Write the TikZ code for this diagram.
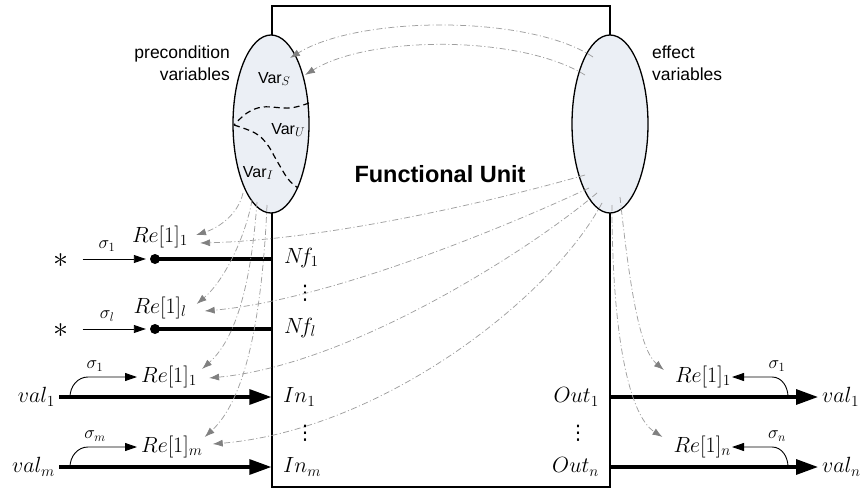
\RequirePackage{fix-cm}
\documentclass[tikz,border=0pt]{standalone}
\usepackage{fontspec}
\newfontfamily\sans{Liberation Sans}
\newfontfamily\dvs{DejaVu Sans}
\usetikzlibrary{shapes.geometric,arrows.meta,calc}
\definecolor{ellfill}{RGB}{235,239,245}
\newcommand{\vsub}[1]{\raisebox{-0.28ex}{\fontsize{12.5}{14}\selectfont$#1$}}
\tikzset{
  lbl/.style={inner sep=1pt, font=\fontsize{22}{26}\selectfont},
  sig/.style={inner sep=1pt, font=\fontsize{18}{21}\selectfont},
  starsty/.style={inner sep=0pt, font=\fontsize{30}{32}\selectfont},
  varlbl/.style={inner sep=1pt, font=\sans\fontsize{16}{19}\selectfont},
  vdotsty/.style={inner sep=0pt, font=\dvs\fontsize{20}{22}\selectfont},
  thickarrow/.style={line width=3.2pt, -{Triangle[length=22pt,width=15pt]}},
  thickline/.style={line width=3.2pt},
  sigarrow/.style={line width=0.9pt, -{Triangle[length=12pt,width=8pt]}},
  gcon/.style={draw=gray!75, line width=0.75pt, dash pattern=on 6pt off 2.5pt on 1pt off 2.5pt, -{Latex[length=10pt,width=7pt,color=gray]}},
  varell/.style={ellipse, draw, line width=1.3pt, fill=ellfill, minimum width=76pt, minimum height=178pt, inner sep=0pt},
  divider/.style={line width=1.2pt, dash pattern=on 6pt off 4pt},
}
\begin{document}
\begin{tikzpicture}[x=1pt,y=1pt]
\useasboundingbox (0,0) rectangle (866,-489);
% functional unit box
\node[draw, line width=1.3pt, minimum width=338pt, minimum height=481pt, inner sep=0pt] (fu) at (441,-246.5) {};
\node[font=\sans\bfseries\fontsize{23.5}{28}\selectfont] (title) at (440,-174) {Functional Unit};
% ellipses
\node[varell] (L) at (271,-124) {};
\node[varell] (R) at (610,-124) {};
\draw[divider] plot[smooth, tension=0.6] coordinates {(309,-103) (290,-108) (263,-107) (247,-113) (234,-125)};
\draw[divider] plot[smooth, tension=0.6] coordinates {(234,-125) (255,-133) (267,-144) (277,-161) (288,-179) (298,-188)};
\node[varlbl] (vs) at (274,-79) {Var\vsub{S}};
\node[varlbl] (vu) at (288,-130) {Var\vsub{U}};
\node[varlbl] (vi) at (258,-173) {Var\vsub{I}};
\node[font=\sans\fontsize{17.5}{22}\selectfont, align=right, anchor=north east, inner sep=0pt] (pre) at (230,-46) {precondition\\variables};
\node[font=\sans\fontsize{17.5}{22}\selectfont, align=left, anchor=north west, inner sep=0pt] (eff) at (652,-46) {effect\\variables};
% left non-functional rows
\node[starsty] (s1) at (61,-261) {$\ast$};
\node[starsty] (s2) at (61,-331) {$\ast$};
\node[circle, fill, inner sep=0pt, minimum size=10pt] (d1) at (155,-259) {};
\node[circle, fill, inner sep=0pt, minimum size=10pt] (d2) at (155,-329) {};
\draw[sigarrow, shorten >=4pt] (s1.east |- d1) ++(14,0) coordinate (a1) -- (d1);
\draw[sigarrow, shorten >=4pt] (s2.east |- d2) ++(14,0) coordinate (a2) -- (d2);
\draw[thickline] (d1.center) -- (d1 -| fu.west);
\draw[thickline] (d2.center) -- (d2 -| fu.west);
\node[sig] (g1) at (107,-246) {$\sigma_1$};
\node[sig] (g2) at (107,-316) {$\sigma_l$};
\node[lbl] (reA) at (160,-237) {$Re[1]_1$};
\node[lbl] (reB) at (160,-308) {$Re[1]_l$};
\node[lbl, anchor=west] (nf1) at (283,-258) {$N\!f_1$};
\node[lbl, anchor=west] (nfl) at (283,-328) {$N\!f_l$};
\node[vdotsty] (dt1) at (305,-293) {⋮};
% left input rows
\node[lbl, anchor=east] (v1) at (56,-397) {$val_1$};
\node[lbl, anchor=east] (vm) at (56,-467) {$val_m$};
\draw[thickarrow, shorten <=3pt] (v1.east) -- (v1.east -| fu.west);
\draw[thickarrow, shorten <=3pt] (vm.east) -- (vm.east -| fu.west);
\node[lbl, anchor=west] (reC) at (140,-377) {$Re[1]_1$};
\node[lbl, anchor=west] (reD) at (140,-447) {$Re[1]_m$};
\coordinate (c1) at (70,-397);
\coordinate (c2) at (70,-467);
\draw[sigarrow, shorten >=3pt] (c1) to[out=90,in=180] ($(c1 |- reC.west)+(18,0)$) -- (reC.west);
\draw[sigarrow, shorten >=3pt] (c2) to[out=90,in=180] ($(c2 |- reD.west)+(18,0)$) -- (reD.west);
\node[sig] (g3) at (95,-366) {$\sigma_1$};
\node[sig] (g4) at (95,-436) {$\sigma_m$};
\node[lbl, anchor=west] (in1) at (282,-397) {$In_1$};
\node[lbl, anchor=west] (inm) at (282,-467) {$In_m$};
\node[vdotsty] (dt2) at (305,-433) {⋮};
% right output rows
\node[lbl, anchor=east] (o1) at (600,-397) {$Out_1$};
\node[lbl, anchor=east] (on) at (600,-467) {$Out_n$};
\node[vdotsty] (dt3) at (578,-433) {⋮};
\node[lbl, anchor=west] (w1) at (821,-397) {$val_1$};
\node[lbl, anchor=west] (wn) at (821,-467) {$val_n$};
\draw[thickarrow, shorten >=3pt] (w1.west -| fu.east) -- (w1.west);
\draw[thickarrow, shorten >=3pt] (wn.west -| fu.east) -- (wn.west);
\node[lbl, anchor=east] (reE) at (732,-377) {$Re[1]_1$};
\node[lbl, anchor=east] (reF) at (732,-447) {$Re[1]_n$};
\coordinate (c3) at (788,-397);
\coordinate (c4) at (788,-467);
\draw[sigarrow] (c3) to[out=90,in=0] ($(c3 |- reE.east)+(-16,0)$) -- (reE.east);
\draw[sigarrow] (c4) to[out=90,in=0] ($(c4 |- reF.east)+(-16,0)$) -- (reF.east);
\node[sig] (g5) at (777,-366) {$\sigma_1$};
\node[sig] (g6) at (777,-436) {$\sigma_n$};
% gray dash-dot connectors
\draw[gcon] ($(R.center)+(-17,67)$) .. controls (530,-15) and (360,-15) .. ($(L.center)+(19,66)$);
\draw[gcon] ($(R.center)+(-25,49)$) .. controls (520,-35) and (370,-35) .. ($(L.center)+(34,49)$);
\draw[gcon] ($(L.center)+(-28,-69)$) .. controls (238,-215) and (218,-228) .. ($(reA.east)+(7,2)$);
\draw[gcon] ($(L.center)+(-19,-76)$) .. controls (246,-235) and (225,-280) .. ($(reB.east)+(9,4)$);
\draw[gcon] ($(L.center)+(-14,-78)$) .. controls (252,-270) and (240,-335) .. ($(reC.east)+(4,8)$);
\draw[gcon] ($(L.center)+(-4,-81)$) .. controls (262,-320) and (245,-400) .. ($(reD.east)+(1,10)$);
\draw[gcon] ($(R.center)+(-25,-51)$) .. controls (480,-205) and (320,-240) .. ($(reA.east)+(11,-6)$);
\draw[gcon] ($(R.center)+(-21,-64)$) .. controls (510,-225) and (330,-300) .. ($(reB.east)+(17,-3)$);
\draw[gcon] ($(R.center)+(-13,-69)$) .. controls (530,-250) and (350,-365) .. ($(reC.east)+(11,-1)$);
\draw[gcon] ($(R.center)+(-8,-79)$) .. controls (550,-300) and (380,-430) .. ($(reD.east)+(9,3)$);
\draw[gcon] ($(R.center)+(10,-73)$) .. controls (630,-290) and (640,-350) .. ($(reE.west)+(-10,7)$);
\draw[gcon] ($(R.center)+(2,-81)$) .. controls (612,-330) and (628,-415) .. ($(reF.west)+(-10,10)$);
\end{tikzpicture}
\end{document}
